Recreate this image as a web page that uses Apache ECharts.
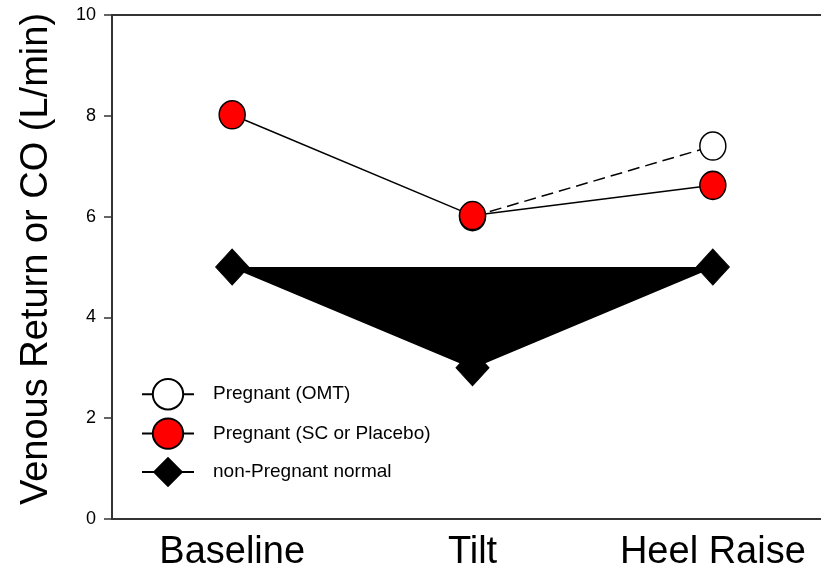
<!DOCTYPE html>
<html>
<head>
<meta charset="utf-8">
<script src="https://cdn.jsdelivr.net/npm/echarts@6/dist/echarts.min.js"></script>
<style>html,body{margin:0;padding:0;background:#fff}#c{width:821px;height:577px}</style>
</head>
<body>
<div id="c"></div>
<script>
const categories = ['Baseline', 'Tilt', 'Heel Raise'];
const omtValues = [null, 6, 7.4];
const scValues = [8.02, 6.02, 6.62];
const normalValues = [5, 3, 5];
const yTicks = [0, 2, 4, 6, 8, 10];
const yTitle = 'Venous Return or CO (L/min)';
const names = ['Pregnant (OMT)', 'Pregnant (SC or Placebo)', 'non-Pregnant normal'];

const toPts = arr => arr.map((v, i) => [i + 1, v]);
const font = 'Liberation Sans, Arial, sans-serif';

const chart = echarts.init(document.getElementById('c'), null, {renderer: 'canvas'});
chart.setOption({
  animation: false,
  backgroundColor: '#fff',
  grid: {left: 112, right: 0, top: 15, bottom: 58, containLabel: false},
  legend: {
    orient: 'vertical', left: 136, top: 373,
    itemWidth: 52, itemHeight: 38, itemGap: 7,
    textStyle: {fontFamily: font, fontSize: 19, color: '#000', padding: [0, 0, 0, 14]},
    data: [
      {name: names[0], lineStyle: {type: 'solid'}},
      {name: names[1]},
      {name: names[2]}
    ]
  },
  xAxis: [{
    type: 'value', min: 0.5, max: 3.45, position: 'bottom',
    axisLine: {show: true, onZero: false, lineStyle: {color: '#333', width: 2}},
    axisTick: {show: false},
    splitLine: {show: false},
    axisLabel: {
      customValues: [1, 2, 3],
      formatter: v => categories[Math.round(v) - 1] || '',
      fontFamily: font, fontSize: 38, color: '#000', margin: 15
    }
  }, {
    type: 'value', min: 0.5, max: 3.45, position: 'top',
    axisLine: {show: true, onZero: false, lineStyle: {color: '#333', width: 2}},
    axisTick: {show: false}, axisLabel: {show: false}, splitLine: {show: false}
  }],
  yAxis: {
    type: 'value', min: yTicks[0], max: yTicks[yTicks.length - 1], interval: 2,
    name: yTitle, nameLocation: 'middle', nameGap: 56,
    nameTextStyle: {fontFamily: font, fontSize: 38, color: '#000', padding: [0, 0, 0, 16]},
    axisLine: {show: true, lineStyle: {color: '#333', width: 2}},
    axisTick: {show: true, inside: false, length: 8, lineStyle: {color: '#333', width: 1.5}},
    axisLabel: {fontFamily: font, fontSize: 18, color: '#000', margin: 16},
    splitLine: {show: false}
  },
  series: [{
    name: names[2], type: 'line', data: toPts(normalValues),
    symbol: 'diamond', symbolSize: [33, 36],
    itemStyle: {color: '#000', borderColor: '#000'},
    lineStyle: {color: '#000', width: 1.5},
    areaStyle: {color: '#000', opacity: 1, origin: 5},
    z: 2
  }, {
    name: names[0], type: 'line', data: toPts(omtValues),
    symbol: 'circle', symbolSize: [26, 28],
    itemStyle: {color: '#fff', borderColor: '#000', borderWidth: 1.5},
    lineStyle: {color: '#000', width: 1.5, type: [12, 6]},
    z: 3
  }, {
    name: names[1], type: 'line', data: toPts(scValues),
    symbol: 'circle', symbolSize: [26, 28],
    itemStyle: {color: '#ff0000', borderColor: '#000', borderWidth: 1.5},
    lineStyle: {color: '#000', width: 1.5},
    z: 4
  }]
});
</script>
</body>
</html>
